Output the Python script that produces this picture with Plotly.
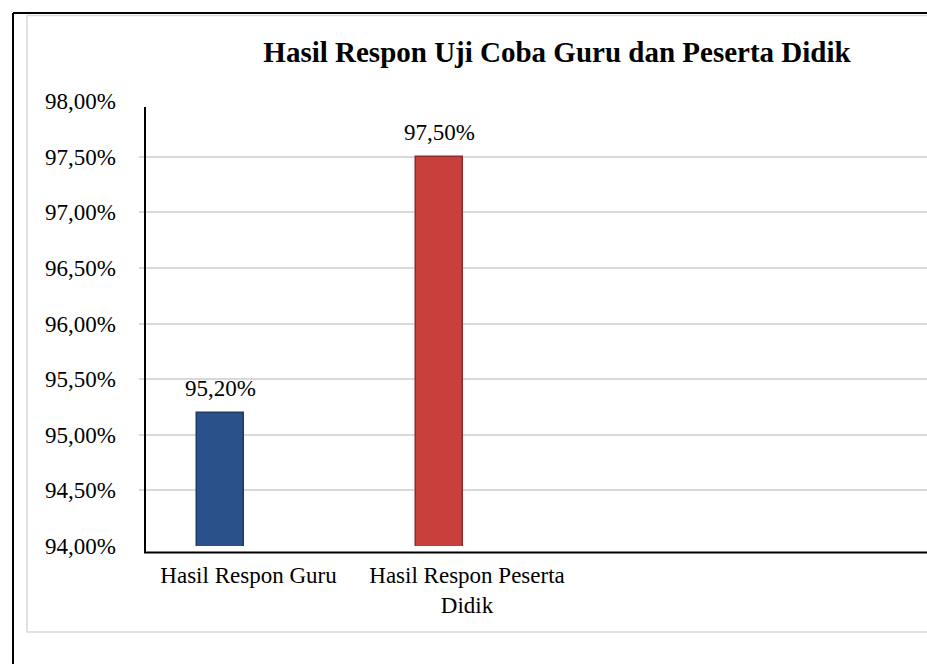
import plotly.graph_objects as go

categories = ["Hasil Respon Guru", "Hasil Respon Peserta Didik"]
tick_labels = ["Hasil Respon Guru", "Hasil Respon Peserta<br>Didik"]
values = [95.20, 97.50]
bar_colors = ["#2A5189", "#C8403B"]
bar_edges = ["#1B3A66", "#8E2B28"]
y_ticks = [94.0, 94.5, 95.0, 95.5, 96.0, 96.5, 97.0, 97.5, 98.0]
title_text = "Hasil Respon Uji Coba Guru dan Peserta Didik"


def fmt_pct(v):
    return f"{v:.2f}".replace(".", ",") + "%"


y_tick_labels = [fmt_pct(v) for v in y_ticks]

W, H = 927, 664
ML, MR, MT, MB = 139, 0, 101, 118
PW = W - ML - MR
PH = H - MT - MB


def px(x):
    return (x - ML) / PW


def py(y):
    return (H - MB - y) / PH


FONT = "Liberation Serif"

fig = go.Figure()
fig.add_trace(go.Bar(
    x=categories, y=values,
    marker=dict(color=bar_colors, line=dict(color=bar_edges, width=1.5)),
    width=0.215,
    hoverinfo="skip",
))

for c, v in zip(categories, values):
    fig.add_annotation(
        x=c, y=v, xref="x", yref="y",
        text=fmt_pct(v),
        showarrow=False, yanchor="bottom", yshift=10,
        font=dict(family=FONT, size=23, color="black"),
    )

shapes = [
    # outer black frame (left + top)
    dict(type="line", xref="paper", yref="paper", x0=px(13), x1=px(13), y0=py(13), y1=py(670),
         line=dict(color="black", width=2)),
    dict(type="line", xref="paper", yref="paper", x0=px(13), x1=px(940), y0=py(13), y1=py(13),
         line=dict(color="black", width=2)),
    # inner light-gray chart border
    dict(type="rect", xref="paper", yref="paper", x0=px(27), x1=px(940), y0=py(632), y1=py(15.5),
         line=dict(color="#D9D9D9", width=1.5), fillcolor="rgba(0,0,0,0)"),
    # axis lines (3D-offset)
    dict(type="line", xref="paper", yref="paper", x0=px(145), x1=px(145), y0=py(107), y1=py(553),
         line=dict(color="black", width=2)),
    dict(type="line", xref="paper", yref="paper", x0=px(144), x1=px(940), y0=py(552.5), y1=py(552.5),
         line=dict(color="black", width=2)),
]

fig.update_layout(
    width=W, height=H,
    margin=dict(l=ML, r=MR, t=MT, b=MB, pad=0),
    paper_bgcolor="white", plot_bgcolor="white",
    showlegend=False,
    shapes=shapes,
    title=dict(
        text=f"<b>{title_text}</b>",
        x=557 / W, xanchor="center", xref="container",
        y=1 - 52 / H, yanchor="middle", yref="container",
        font=dict(family=FONT, size=29, color="black"),
    ),
    font=dict(family=FONT, size=23, color="black"),
    bargap=0,
)

fig.update_xaxes(
    type="category",
    range=[-0.373, 3.233],
    tickvals=categories, ticktext=tick_labels,
    showgrid=False, zeroline=False, showline=False, ticks="",
    ticklabelshift=28, ticklabelstandoff=13,
    tickfont=dict(family=FONT, size=23, color="black"),
    fixedrange=True,
)
fig.update_yaxes(
    range=[94, 98], tickvals=y_ticks, ticktext=y_tick_labels,
    showgrid=True, gridcolor="#D9D9D9", gridwidth=1.5,
    zeroline=False, showline=False, ticks="",
    ticklabelstandoff=22,
    tickfont=dict(family=FONT, size=23, color="black"),
    fixedrange=True,
)

fig.write_html("out.html")
